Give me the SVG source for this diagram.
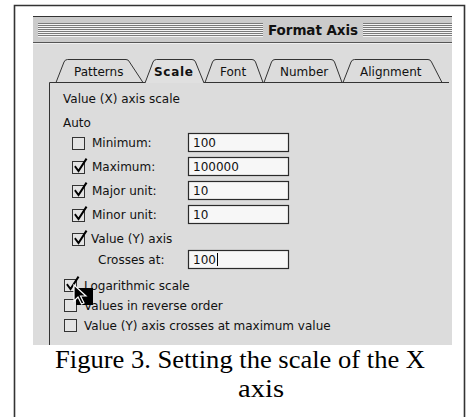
<svg xmlns="http://www.w3.org/2000/svg" width="467" height="417" viewBox="0 0 467 417">
  <defs>
    <style>
      .ui { font-family: "DejaVu Sans", "Liberation Sans", sans-serif; font-size: 12px; fill: #111; }
      .tabt { font-family: "DejaVu Sans", "Liberation Sans", sans-serif; font-size: 12px; fill: #111; }
      .cap { font-family: "Liberation Serif", "Times New Roman", serif; font-size: 25px; fill: #000; }
      .tab { fill: #dcdcdc; stroke: #333; stroke-width: 1; }
      .cb { fill: #e4e4e4; stroke: #333; stroke-width: 1; }
      .chk { fill: none; stroke: #000; stroke-width: 2; stroke-linecap: square; }
      .box { fill: #f7f7f7; stroke: #2a2a2a; stroke-width: 1.2; }
      .dk { stroke: #7a7a7a; stroke-width: 1; }
      .lt { stroke: #f4f4f4; stroke-width: 1; }
    </style>
  </defs>

  <rect x="0" y="0" width="467" height="417" fill="#fff"/>

  <!-- outer frame -->
  <g id="frame">
    <path d="M14.5 417 V5.5 H464.5 V417" fill="none" stroke="#333" stroke-width="1.6"/>
  </g>

  <!-- dialog window -->
  <g id="dialog">
    <rect x="33" y="16" width="419" height="329" fill="#dcdcdc"/>
    <rect x="33" y="16" width="419" height="26" fill="#cbcbcb"/>
    <line x1="33" y1="16.5" x2="452" y2="16.5" stroke="#333" stroke-width="1"/>
    <line x1="33" y1="42.5" x2="452" y2="42.5" stroke="#555" stroke-width="1"/>
    <line x1="33" y1="43.5" x2="452" y2="43.5" stroke="#efefef" stroke-width="1"/>
    <g id="title-stripes-left">
      <path class="dk" d="M38 23.5H263M38 25.5H263M38 27.5H263M38 29.5H263M38 31.5H263M38 33.5H263M38 35.5H263"/>
      <path class="lt" d="M38 24.5H263M38 26.5H263M38 28.5H263M38 30.5H263M38 32.5H263M38 34.5H263M38 36.5H263"/>
    </g>
    <g id="title-stripes-right">
      <path class="dk" d="M363 23.5H452M363 25.5H452M363 27.5H452M363 29.5H452M363 31.5H452M363 33.5H452M363 35.5H452"/>
      <path class="lt" d="M363 24.5H452M363 26.5H452M363 28.5H452M363 30.5H452M363 32.5H452M363 34.5H452M363 36.5H452"/>
    </g>
    <text x="268" y="35" font-family="DejaVu Sans, Liberation Sans, sans-serif" font-size="13.5" font-weight="bold" fill="#111" textLength="90">Format Axis</text>
  </g>

  <!-- tabs -->
  <g id="tabs">
    <g id="tab-patterns">
      <path class="tab" d="M56 82.5 L64 62 Q65 59.5 67.5 59.5 L126 59.5 Q128.5 59.5 129.5 62 L143 82.5"/>
      <text class="tabt" x="74" y="76">Patterns</text>
    </g>
    <g id="tab-font">
      <path class="tab" d="M205 82.5 L212.5 62 Q213.5 59.5 216 59.5 L252 59.5 Q254.5 59.5 255.5 62 L263 82.5"/>
      <text class="tabt" x="220" y="76">Font</text>
    </g>
    <g id="tab-number">
      <path class="tab" d="M264 82.5 L271.5 62 Q272.5 59.5 275 59.5 L331 59.5 Q333.5 59.5 334.5 62 L342 82.5"/>
      <text class="tabt" x="280" y="76">Number</text>
    </g>
    <g id="tab-alignment">
      <path class="tab" d="M343 82.5 L351 62 Q352 59.5 354.5 59.5 L428 59.5 Q430.5 59.5 431.5 62 L442 82.5"/>
      <text class="tabt" x="360" y="76">Alignment</text>
    </g>
    <path d="M49.5 345 V82.5 H145 M204 82.5 H449" fill="none" stroke="#333" stroke-width="1"/>
    <g id="tab-scale">
      <path d="M145 83 L153 62 Q154 59.5 156.5 59.5 L192 59.5 Q194.5 59.5 195.5 62 L204 83" fill="#e0e0e0" stroke="#333" stroke-width="1"/>
      <text class="tabt" x="154" y="76" font-weight="bold" font-size="12.5" textLength="39">Scale</text>
    </g>
  </g>

  <!-- panel contents -->
  <g id="panel">
    <text class="ui" x="63" y="103">Value (X) axis scale</text>
    <text class="ui" x="63" y="127">Auto</text>

    <g id="row-minimum">
      <rect class="cb" x="72.5" y="137.5" width="12" height="12"/>
      <text class="ui" x="92" y="147">Minimum:</text>
      <rect class="box" x="188.5" y="133.5" width="100" height="18"/>
      <text class="ui" x="193" y="147">100</text>
    </g>
    <g id="row-maximum">
      <rect class="cb" x="72.5" y="161.5" width="12" height="12"/>
      <path class="chk" d="M75.5 167 L78.5 171 L86 159.5"/>
      <text class="ui" x="92" y="171">Maximum:</text>
      <rect class="box" x="188.5" y="157.5" width="100" height="18"/>
      <text class="ui" x="193" y="171">100000</text>
    </g>
    <g id="row-major">
      <rect class="cb" x="72.5" y="185.5" width="12" height="12"/>
      <path class="chk" d="M75.5 191 L78.5 195 L86 183.5"/>
      <text class="ui" x="92" y="195">Major unit:</text>
      <rect class="box" x="188.5" y="181.5" width="100" height="18"/>
      <text class="ui" x="193" y="195">10</text>
    </g>
    <g id="row-minor">
      <rect class="cb" x="72.5" y="209.5" width="12" height="12"/>
      <path class="chk" d="M75.5 215 L78.5 219 L86 207.5"/>
      <text class="ui" x="92" y="219">Minor unit:</text>
      <rect class="box" x="188.5" y="205.5" width="100" height="18"/>
      <text class="ui" x="193" y="219">10</text>
    </g>
    <g id="row-valuey">
      <rect class="cb" x="72.5" y="233.5" width="12" height="12"/>
      <path class="chk" d="M75.5 239 L78.5 243 L86 231.5"/>
      <text class="ui" x="91" y="243">Value (Y) axis</text>
    </g>
    <g id="row-crosses">
      <text class="ui" x="98" y="264">Crosses at:</text>
      <rect class="box" x="188.5" y="250.5" width="100" height="18"/>
      <text class="ui" x="193" y="264">100</text>
      <line x1="217.5" y1="253" x2="217.5" y2="266" stroke="#000" stroke-width="1"/>
    </g>
    <g id="row-log">
      <rect class="cb" x="64.5" y="279.5" width="12" height="12"/>
      <path class="chk" d="M67.5 285 L70.5 289 L78 277.5"/>
      <text class="ui" x="84" y="290">Logarithmic scale</text>
    </g>
    <g id="row-reverse">
      <rect class="cb" x="64.5" y="299.5" width="12" height="12"/>
      <text class="ui" x="84" y="310">Values in reverse order</text>
    </g>
    <g id="row-crossmax">
      <rect class="cb" x="64.5" y="319.5" width="12" height="12"/>
      <text class="ui" x="84" y="330">Value (Y) axis crosses at maximum value</text>
    </g>
  </g>

  <!-- mouse cursor -->
  <g id="cursor">
    <rect x="76" y="288" width="17" height="17" fill="#000"/>
    <path d="M74 285 L74 301 L78 297 L81.5 304 L84 303 L80.5 296 L86 296 Z" fill="#000" stroke="#fff" stroke-width="1.2" stroke-linejoin="miter"/>
  </g>

  <!-- caption -->
  <g id="caption">
    <text class="cap" x="55" y="368" textLength="370" lengthAdjust="spacingAndGlyphs">Figure 3. Setting the scale of the X</text>
    <text class="cap" x="238" y="397" textLength="46" lengthAdjust="spacingAndGlyphs">axis</text>
  </g>
</svg>
